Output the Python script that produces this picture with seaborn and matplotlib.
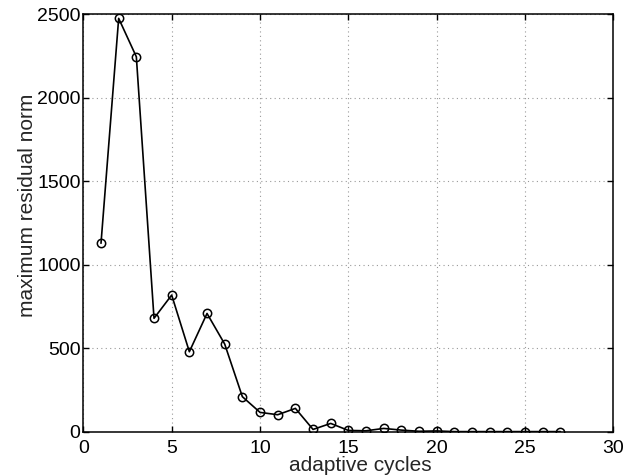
import matplotlib
matplotlib.use("Agg")
import matplotlib.pyplot as plt
import seaborn as sns
import pandas as pd

cycles = list(range(1, 28))
residual = [1128, 2474, 2244, 679, 818, 479, 708, 525, 210, 116,
            102, 140, 14, 50, 8, 6, 20, 10, 3, 5,
            1, 1, 1, 1, 1, 1, 1]
xticks = [0, 5, 10, 15, 20, 25, 30]
yticks = [0, 500, 1000, 1500, 2000, 2500]

df = pd.DataFrame({"cycle": cycles, "residual": residual})

sns.set_style("white")
plt.rcParams['font.family'] = ['Liberation Sans', 'DejaVu Sans']

fig = plt.figure(figsize=(6.41, 4.75), dpi=100)
ax = fig.add_axes([0.130, 0.091, 0.827, 0.8795])

sns.lineplot(data=df, x="cycle", y="residual", ax=ax, color="black",
             linewidth=1.2, marker="o", markersize=6,
             markerfacecolor="none", markeredgecolor="black",
             markeredgewidth=1.1)

ax.set_xlim(0, 30)
ax.set_ylim(0, 2500)
ax.set_xticks(xticks)
ax.set_yticks(yticks)
ax.set_xticklabels([str(t) for t in xticks], fontsize=14)
ax.set_yticklabels([str(t) for t in yticks], fontsize=14)
ax.grid(True, linestyle=(0, (1, 3)), color="#999999", linewidth=0.8)
ax.tick_params(direction="in", length=4, width=1, top=True, right=True,
               bottom=True, left=True, colors="black")
ax.tick_params(axis="x", pad=6)
ax.tick_params(axis="y", pad=2)
for s in ax.spines.values():
    s.set_visible(True)
    s.set_color("black")
    s.set_linewidth(1.1)
ax.set_xlabel("adaptive cycles", fontsize=15)
ax.set_ylabel("maximum residual norm", fontsize=15)
ax.xaxis.set_label_coords(0.522, -0.058)
ax.yaxis.set_label_coords(-0.087, 0.543)

fig.savefig("out.png", dpi=100)
